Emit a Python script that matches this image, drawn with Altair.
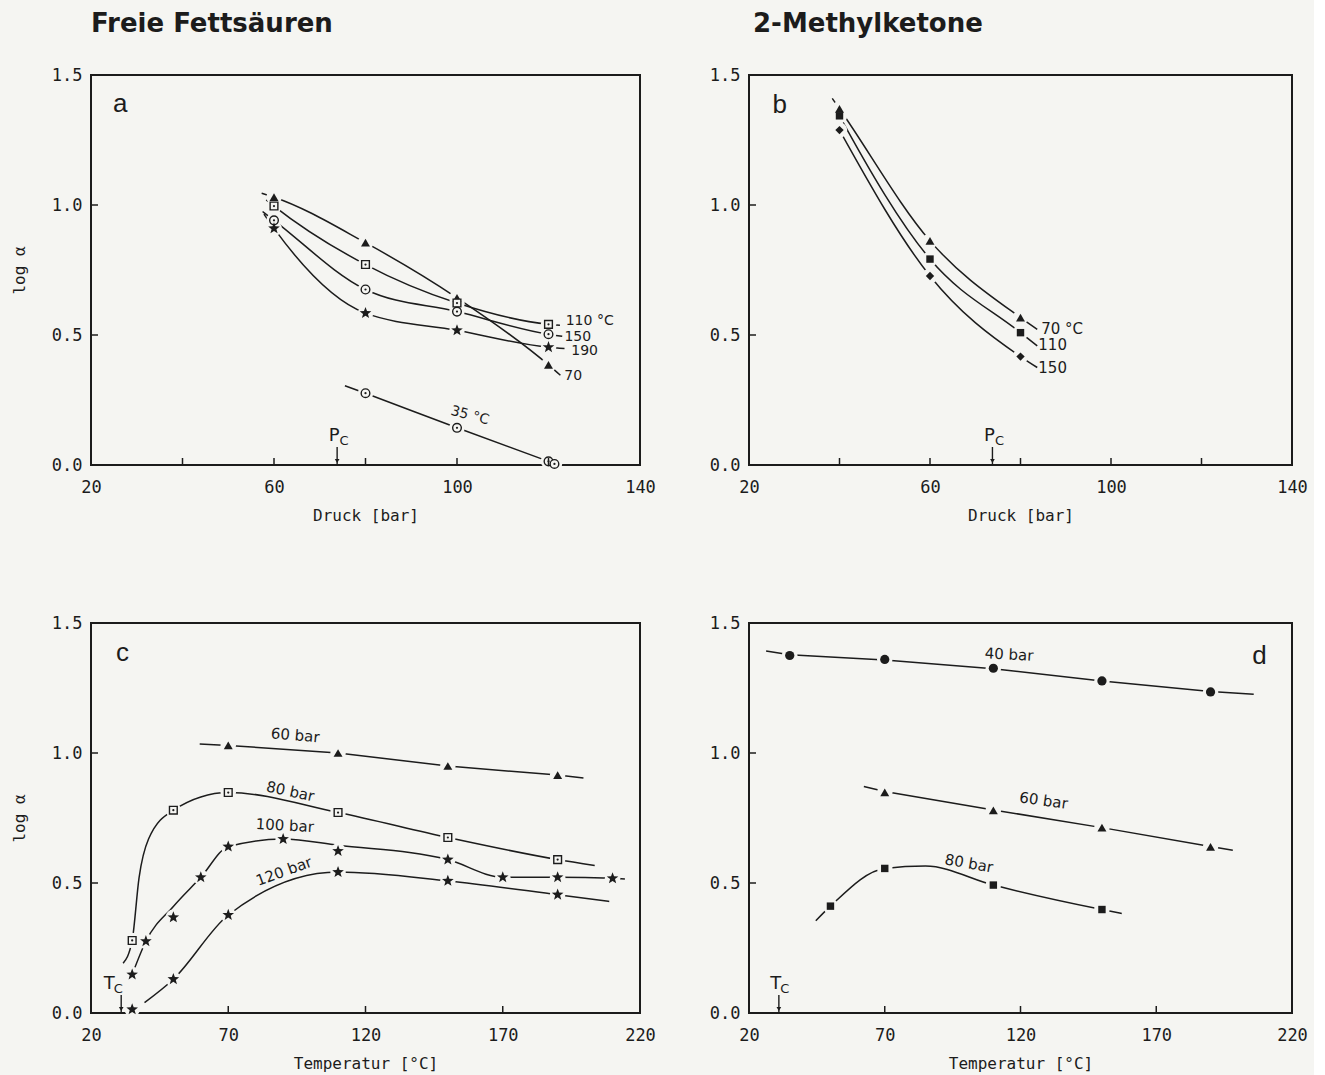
import math
import altair as alt
import pandas as pd

PAPER = "#f5f5f2"
INK = "#1c1c1c"
MONO = "DejaVu Sans Mono"
SANS = "DejaVu Sans"
LETTER_FONT = "Liberation Sans"

PC = 73.8   # critical pressure of CO2 [bar]
TC = 31.0   # critical temperature of CO2 [°C]

# ---------------- a: Freie Fettsäuren, log alpha vs. pressure ----------------
a_press = [60, 80, 100, 120]
a_70 = [1.030, 0.855, 0.643, 0.385]
a_110 = [0.996, 0.771, 0.623, 0.541]
a_150 = [0.941, 0.675, 0.590, 0.503]
a_190 = [0.910, 0.584, 0.518, 0.453]
a_35_press = [80, 100, 120, 121.3]
a_35 = [0.276, 0.143, 0.014, 0.004]

a_70_line_x = [57.3, 60, 80, 100, 120, 122.6]
a_70_line_y = [1.045, 1.030, 0.855, 0.643, 0.385, 0.345]
a_110_line_x = [58.3, 60, 80, 100, 120, 122.5]
a_110_line_y = [1.020, 0.996, 0.771, 0.623, 0.541, 0.537]
a_150_line_x = [57.5, 60, 80, 100, 120, 123.0]
a_150_line_y = [0.975, 0.941, 0.675, 0.590, 0.503, 0.495]
a_190_line_x = [57.8, 60, 80, 100, 120, 123.5]
a_190_line_y = [0.965, 0.910, 0.584, 0.518, 0.453, 0.448]
a_35_line_x = [75.5, 80, 100, 120]
a_35_line_y = [0.305, 0.276, 0.143, 0.014]

a_note_text = ["110 °C", "150", "190", "70", "35 °C"]
a_note_x = [129.0, 126.4, 127.9, 125.4, 102.8]
a_note_y = [0.552, 0.493, 0.438, 0.342, 0.190]
a_note_angle = [0, 0, 0, 0, 15]

# ---------------- b: 2-Methylketone, log alpha vs. pressure ----------------
b_press = [40, 60, 80]
b_70 = [1.370, 0.862, 0.567]
b_110 = [1.343, 0.792, 0.509]
b_150 = [1.288, 0.727, 0.417]

b_70_line_x = [38.4, 40, 60, 80, 83.7]
b_70_line_y = [1.410, 1.370, 0.862, 0.567, 0.522]
b_110_line_x = [39.0, 40, 60, 80, 83.7]
b_110_line_y = [1.375, 1.343, 0.792, 0.509, 0.458]
b_150_line_x = [39.3, 40, 60, 80, 83.7]
b_150_line_y = [1.310, 1.288, 0.727, 0.417, 0.375]

b_note_text = ["70 °C", "110", "150"]
b_note_x = [89.2, 87.1, 87.1]
b_note_y = [0.522, 0.460, 0.375]
b_note_angle = [0, 0, 0]

# ---------------- c: Freie Fettsäuren, log alpha vs. temperature ----------------
c_60_temp = [70, 110, 150, 190]
c_60 = [1.029, 1.000, 0.950, 0.915]
c_80_temp = [35, 50, 70, 110, 150, 190]
c_80 = [0.279, 0.780, 0.848, 0.771, 0.675, 0.590]
c_100_temp = [35, 40, 50, 60, 70, 90, 110, 150, 170, 190, 210]
c_100 = [0.148, 0.276, 0.368, 0.522, 0.640, 0.669, 0.623, 0.590, 0.522, 0.522, 0.518]
c_120_temp = [35, 50, 70, 110, 150, 190]
c_120 = [0.014, 0.130, 0.377, 0.542, 0.508, 0.455]

c_60_line_x = [59.6, 70, 110, 150, 190, 199.4]
c_60_line_y = [1.035, 1.029, 1.000, 0.950, 0.915, 0.904]
c_80_line_x = [31.7, 35, 37.5, 41, 50, 70, 110, 150, 190, 203.5]
c_80_line_y = [0.191, 0.279, 0.520, 0.670, 0.780, 0.848, 0.771, 0.675, 0.590, 0.567]
c_100_line_x = [35, 40, 50, 60, 70, 90, 110, 150, 170, 190, 210, 214.5]
c_100_line_y = [0.148, 0.276, 0.410, 0.522, 0.640, 0.669, 0.645, 0.590, 0.522, 0.522, 0.518, 0.515]
c_120_line_x = [39.5, 50, 70, 110, 150, 190, 208.8]
c_120_line_y = [0.040, 0.130, 0.377, 0.542, 0.508, 0.455, 0.429]

c_note_text = ["60 bar", "80 bar", "100 bar", "120 bar"]
c_note_x = [94.4, 92.6, 90.6, 90.3]
c_note_y = [1.068, 0.852, 0.721, 0.545]
c_note_angle = [5, 12, 3, 340]

# ---------------- d: 2-Methylketone, log alpha vs. temperature ----------------
d_40_temp = [35, 70, 110, 150, 190]
d_40 = [1.375, 1.360, 1.326, 1.277, 1.235]
d_60_temp = [70, 110, 150, 190]
d_60 = [0.849, 0.779, 0.713, 0.639]
d_80_temp = [50, 70, 110, 150]
d_80 = [0.411, 0.556, 0.492, 0.398]

d_40_line_x = [26.3, 35, 70, 110, 150, 190, 205.9]
d_40_line_y = [1.392, 1.378, 1.358, 1.324, 1.277, 1.237, 1.226]
d_60_line_x = [62.3, 70, 110, 150, 190, 198.2]
d_60_line_y = [0.871, 0.852, 0.781, 0.713, 0.640, 0.626]
d_80_line_x = [44.6, 50, 70, 85, 110, 150, 157.3]
d_80_line_y = [0.355, 0.411, 0.556, 0.565, 0.492, 0.398, 0.383]

d_note_text = ["40 bar", "60 bar", "80 bar"]
d_note_x = [115.8, 128.5, 101.0]
d_note_y = [1.379, 0.817, 0.575]
d_note_angle = [3, 8, 10]

Y_LABELS = [0.0, 0.5, 1.0, 1.5]
Y_TICKS = [0.5, 1.0]


def star_path(points=5, inner=0.42):
    """Five-pointed star as a custom Vega symbol path in the unit box."""
    pts = []
    for k in range(2 * points):
        r = 1.0 if k % 2 == 0 else inner
        ang = -math.pi / 2 + k * math.pi / points
        pts.append(f"{r * math.cos(ang):.3f},{r * math.sin(ang):.3f}")
    return "M" + " L".join(pts) + " Z"


STAR = star_path()


def series(name, mx, my, lx, ly, shape, size, hollow=False, curve="monotone"):
    return dict(name=name, mx=mx, my=my, lx=lx, ly=ly, shape=shape, size=size,
                hollow=hollow, curve=curve)


def panel(items, notes, note_size, letter, letter_xy, xdom, xlabels, xticks, xtitle, ytitle,
          crit, width, height, title=None, title_dx=0):
    X = alt.X("x:Q", scale=alt.Scale(domain=xdom, nice=False, zero=False),
              axis=alt.Axis(values=xlabels, title=xtitle, format="d"))
    Y = alt.Y("y:Q", scale=alt.Scale(domain=[0, 1.5], nice=False, zero=False),
              axis=alt.Axis(values=Y_LABELS, title=ytitle, format=".1f"))

    layers = []
    for it in items:
        cd = pd.DataFrame({"x": it["lx"], "y": it["ly"]})
        layers.append(alt.Chart(cd).mark_line(interpolate=it["curve"], color=INK, strokeWidth=1.5)
                      .encode(x=X, y=Y))

    marks = pd.concat([pd.DataFrame({"x": it["mx"], "y": it["my"]}) for it in items])
    layers.append(alt.Chart(marks).mark_point(shape="circle", filled=True, color=PAPER,
                                              opacity=1, size=240, strokeWidth=0)
                  .encode(x=X, y=Y))
    for it in items:
        df = pd.DataFrame({"x": it["mx"], "y": it["my"]})
        if it["hollow"]:
            layers.append(alt.Chart(df).mark_point(shape=it["shape"], filled=True, fill=PAPER,
                                                   stroke=INK, strokeWidth=1.4, size=it["size"], opacity=1)
                          .encode(x=X, y=Y))
            layers.append(alt.Chart(df).mark_point(shape="circle", filled=True, color=INK,
                                                   size=5, opacity=1)
                          .encode(x=X, y=Y))
        else:
            layers.append(alt.Chart(df).mark_point(shape=it["shape"], filled=True, color=INK,
                                                   size=it["size"], opacity=1, strokeWidth=0)
                          .encode(x=X, y=Y))

    text_x, text_y, text_t, text_a = notes
    nd = pd.DataFrame({"x": text_x, "y": text_y, "t": text_t, "ang": text_a})
    layers.append(alt.Chart(nd).mark_text(font=SANS, fontSize=note_size, color=INK, align="center",
                                          baseline="middle")
                  .encode(x=X, y=Y, text="t:N", angle=alt.Angle("ang:Q", scale=None)))

    ld = pd.DataFrame({"x": [letter_xy[0]], "y": [letter_xy[1]]})
    layers.append(alt.Chart(ld).mark_text(text=letter, font=LETTER_FONT, fontSize=26, color=INK,
                                          align="center", baseline="middle")
                  .encode(x=X, y=Y))

    # inward tick marks
    layers.append(alt.Chart(pd.DataFrame({"x": xticks})).mark_rule(color=INK, strokeWidth=1.5)
                  .encode(x=X, y=alt.value(height), y2=alt.value(height - 7)))
    layers.append(alt.Chart(pd.DataFrame({"y": Y_TICKS})).mark_rule(color=INK, strokeWidth=1.5)
                  .encode(y=Y, x=alt.value(0), x2=alt.value(7)))

    # critical point arrow with subscript label
    cx, main, sub, dx_main, dx_sub = crit
    cd = pd.DataFrame({"x": [cx]})
    layers.append(alt.Chart(cd).mark_rule(color=INK, strokeWidth=1.4)
                  .encode(x=X, y=alt.value(height), y2=alt.value(height - 18)))
    layers.append(alt.Chart(cd).mark_point(shape="triangle-down", filled=True, color=INK,
                                           size=22, opacity=1)
                  .encode(x=X, y=alt.value(height - 4)))
    layers.append(alt.Chart(cd).mark_text(text=main, font=SANS, fontSize=18, color=INK,
                                          align="center", baseline="alphabetic", dx=dx_main)
                  .encode(x=X, y=alt.value(height - 24)))
    layers.append(alt.Chart(cd).mark_text(text=sub, font=SANS, fontSize=13, color=INK,
                                          align="center", baseline="alphabetic", dx=dx_sub)
                  .encode(x=X, y=alt.value(height - 20)))

    props = dict(width=width, height=height)
    if title:
        props["title"] = alt.TitleParams(text=title, anchor="start", frame="group", font=SANS,
                                         fontSize=26, fontWeight="bold", color=INK,
                                         baseline="alphabetic", offset=8, dx=title_dx)
    return alt.layer(*layers).properties(**props)


W1, W2, H = 549, 543, 390

pa = panel(
    [series("70", a_press, a_70, a_70_line_x, a_70_line_y, "triangle-up", 80),
     series("110", a_press, a_110, a_110_line_x, a_110_line_y, "square", 60, hollow=True),
     series("150", a_press, a_150, a_150_line_x, a_150_line_y, "circle", 75, hollow=True),
     series("190", a_press, a_190, a_190_line_x, a_190_line_y, STAR, 150),
     series("35", a_35_press, a_35, a_35_line_x, a_35_line_y, "circle", 75, hollow=True)],
    (a_note_x, a_note_y, a_note_text, a_note_angle), 14, "a", (26.4, 1.387),
    [20, 140], [20, 60, 100, 140], [40, 60, 80, 100, 120], "Druck [bar]", "log α",
    (PC, "P", "C", -3, 7), W1, H, title="Freie Fettsäuren", title_dx=0)

pb = panel(
    [series("70", b_press, b_70, b_70_line_x, b_70_line_y, "triangle-up", 80),
     series("110", b_press, b_110, b_110_line_x, b_110_line_y, "square", 55),
     series("150", b_press, b_150, b_150_line_x, b_150_line_y, "diamond", 70)],
    (b_note_x, b_note_y, b_note_text, b_note_angle), 15, "b", (26.8, 1.383),
    [20, 140], [20, 60, 100, 140], [40, 60, 80, 100, 120], "Druck [bar]", "",
    (PC, "P", "C", -3, 7), W2, H, title="2-Methylketone", title_dx=4)

pc = panel(
    [series("60", c_60_temp, c_60, c_60_line_x, c_60_line_y, "triangle-up", 80, curve="linear"),
     series("80", c_80_temp, c_80, c_80_line_x, c_80_line_y, "square", 60, hollow=True),
     series("100", c_100_temp, c_100, c_100_line_x, c_100_line_y, STAR, 150),
     series("120", c_120_temp, c_120, c_120_line_x, c_120_line_y, STAR, 150)],
    (c_note_x, c_note_y, c_note_text, c_note_angle), 15, "c", (31.5, 1.385),
    [20, 220], [20, 70, 120, 170, 220], [70, 120, 170], "Temperatur [°C]", "log α",
    (TC, "T", "C", -12, -3), W1, H)

pd_ = panel(
    [series("40", d_40_temp, d_40, d_40_line_x, d_40_line_y, "circle", 85, curve="linear"),
     series("60", d_60_temp, d_60, d_60_line_x, d_60_line_y, "triangle-up", 80, curve="linear"),
     series("80", d_80_temp, d_80, d_80_line_x, d_80_line_y, "square", 55)],
    (d_note_x, d_note_y, d_note_text, d_note_angle), 15, "d", (208.0, 1.373),
    [20, 220], [20, 70, 120, 170, 220], [70, 120, 170], "Temperatur [°C]", "",
    (TC, "T", "C", -3, 6), W2, H)

chart = (
    alt.concat(pa, pb, pc, pd_, columns=2, spacing={"row": 158, "column": 109}, bounds="flush")
    .properties(background=PAPER, padding={"left": 10, "top": 10, "right": 5, "bottom": 5})
    .configure_view(stroke=INK, strokeWidth=2)
    .configure_axis(domain=False, ticks=False, grid=False, labelFont=MONO, labelFontSize=17,
                    labelColor=INK, titleFont=MONO, titleFontSize=16, titleFontWeight="normal",
                    titleColor=INK, labelFlush=False)
    .configure_axisX(labelPadding=14, titlePadding=12)
    .configure_axisY(labelPadding=9, titlePadding=24)
)

chart.save("out.html", embed_options={"renderer": "svg", "actions": False})
